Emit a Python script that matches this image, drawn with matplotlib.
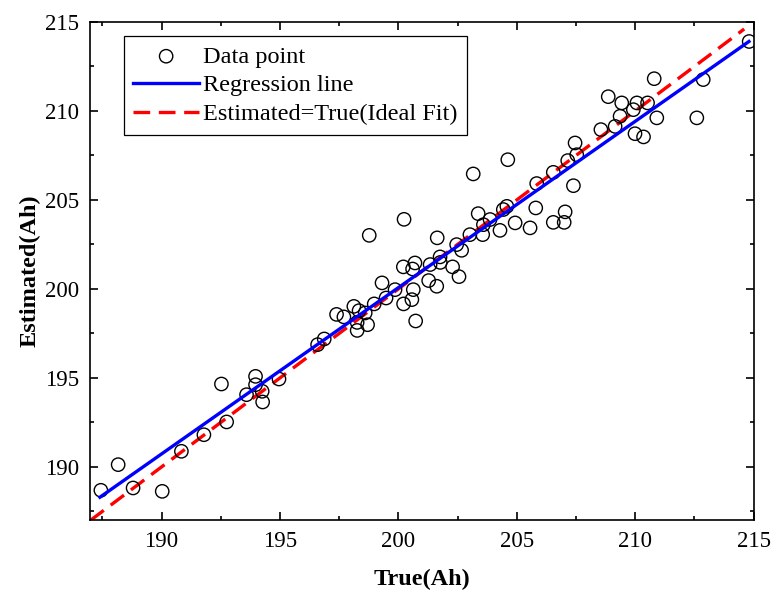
import numpy as np
import matplotlib
matplotlib.use("Agg")
from matplotlib import pyplot as plt
from matplotlib.ticker import MultipleLocator

# data (True vs Estimated capacity, Ah)
true_ah = [187.44, 188.17, 188.80, 190.03, 190.84, 191.79, 192.53, 192.75,
           193.59, 193.97, 193.97, 194.25, 194.27, 194.96, 196.59, 196.87,
           197.39, 197.70, 198.12, 198.34, 198.26, 198.26, 198.70, 198.60,
           198.98, 199.31, 199.48, 199.86, 200.21, 200.22, 200.57, 200.63,
           200.70, 200.60, 200.73, 201.28, 201.34, 201.62, 201.76, 201.77,
           202.29, 202.56, 202.46, 202.67, 201.64, 203.02, 203.56, 203.37,
           198.77, 200.24, 203.59, 203.87, 204.29, 204.43, 204.58, 204.93,
           205.56, 205.80, 203.16, 204.62, 205.84, 206.54, 206.54, 207.04,
           207.00, 207.39, 207.15, 207.53, 207.46, 208.55, 209.15, 209.36,
           209.92, 209.99, 210.35, 210.91, 212.60, 208.86, 209.43, 210.07,
           210.52, 210.80, 212.87, 214.81]
est_ah = [188.69, 190.13, 188.82, 188.63, 190.88, 191.81, 194.66, 192.53,
          194.06, 195.09, 194.62, 194.25, 193.65, 194.94, 196.87, 197.19,
          198.57, 198.43, 199.02, 198.78, 198.12, 197.67, 197.99, 198.65,
          199.16, 200.34, 199.49, 199.96, 201.24, 199.16, 199.40, 199.96,
          201.46, 201.12, 198.20, 200.47, 201.37, 200.15, 201.80, 201.49,
          201.24, 200.69, 202.49, 202.17, 202.87, 203.05, 203.05, 204.23,
          203.01, 203.91, 203.61, 203.90, 203.29, 204.46, 204.64, 203.71,
          203.43, 204.55, 206.46, 207.26, 205.92, 206.55, 203.74, 204.33,
          203.74, 205.80, 207.21, 207.54, 208.20, 208.95, 209.13, 209.70,
          210.07, 208.72, 208.54, 209.61, 209.61, 210.80, 210.45, 210.45,
          210.45, 211.81, 211.76, 213.90]

# regression line end points and ideal-fit line
reg_x = [187.4, 214.8]
reg_y = [188.3, 213.9]
ideal_x = [187.0, 214.6]
ideal_y = [187.0, 214.6]

plt.rcParams['font.family'] = ['Liberation Serif', 'DejaVu Serif']

fig = plt.figure(figsize=(7.73, 5.92), dpi=100)
ax = fig.add_axes([0.117, 0.121, 0.858, 0.842])

ax.scatter(true_ah, est_ah, s=92, facecolors='none', edgecolors='black',
           linewidths=1.0, label='Data point', zorder=3)
ax.plot(reg_x, reg_y, color='blue', lw=2.4, label='Regression line', zorder=4)
ax.plot(ideal_x, ideal_y, color='red', lw=2.4, ls=(0, (5, 2.6)),
        label='Estimated=True(Ideal Fit)', zorder=2)

ax.set_xlim(187, 215)
ax.set_ylim(187, 215)
ax.xaxis.set_major_locator(MultipleLocator(5))
ax.yaxis.set_major_locator(MultipleLocator(5))
ax.xaxis.set_minor_locator(MultipleLocator(2.5))
ax.yaxis.set_minor_locator(MultipleLocator(2.5))
ax.tick_params(which='both', direction='in', top=True, right=True, width=1.2)
ax.tick_params(which='major', length=6, labelsize=16.5, pad=8)
ax.tick_params(which='minor', length=3)
for sp in ax.spines.values():
    sp.set_linewidth(1.2)

ax.set_xlabel('True(Ah)', fontsize=17.5, fontweight='bold', labelpad=12)
ax.set_ylabel('Estimated(Ah)', fontsize=17.5, fontweight='bold', labelpad=3)

leg = ax.legend(loc='upper left', bbox_to_anchor=(0.05, 0.972), fontsize=17.5,
                fancybox=False, edgecolor='black', framealpha=1,
                handlelength=2.7, handletextpad=0.15, borderpad=0.4,
                labelspacing=0.28, borderaxespad=0)
leg.get_frame().set_linewidth(0.9)

plt.savefig("out.png", dpi=100)
